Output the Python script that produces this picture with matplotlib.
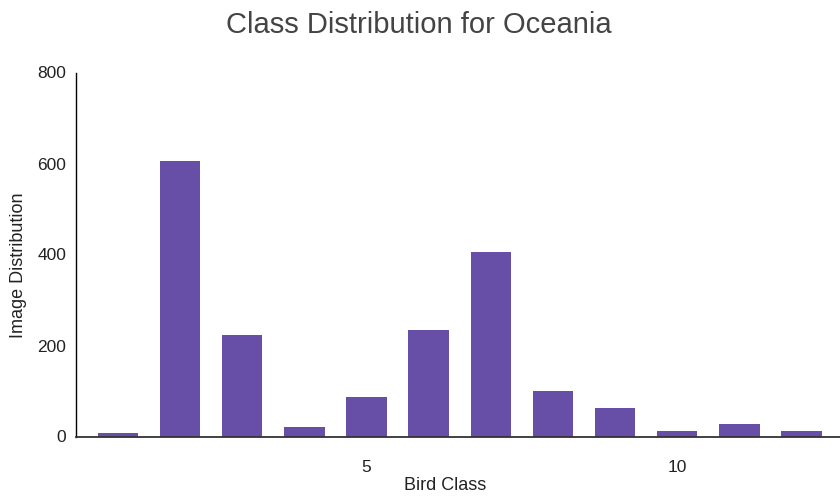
import matplotlib
matplotlib.use("Agg")
import matplotlib.pyplot as plt

bird_class = [1, 2, 3, 4, 5, 6, 7, 8, 9, 10, 11, 12]
image_count = [7, 606, 223, 20, 87, 234, 406, 100, 63, 11, 28, 11]
y_ticks = [0, 200, 400, 600, 800]
x_ticks = [5, 10]

plt.rcParams['font.family'] = ['Liberation Sans', 'DejaVu Sans']
fig = plt.figure(figsize=(8.4, 5.0), dpi=100)
ax = fig.add_axes([76/840, 1-436.5/500, 1-76/840, (436.5-72.5)/500])

ax.bar(bird_class, image_count, width=0.65, color='#674ea7', zorder=2)
ax.set_xlim(0.325, 12.62)
ax.set_ylim(0, 800)
ax.set_yticks(y_ticks)
ax.set_xticks(x_ticks)
ax.tick_params(length=0, labelsize=12.5, colors='#222222')
ax.tick_params(axis='y', pad=7)
ax.tick_params(axis='x', pad=17)
for s in ['top', 'right']:
    ax.spines[s].set_visible(False)
ax.spines['left'].set_color('#000000')
ax.spines['bottom'].set_color('#333333')
ax.spines['left'].set_linewidth(1.0)
ax.spines['bottom'].set_linewidth(1.3)

fig.text(445/840, 1-486/500, 'Bird Class', ha='center', va='center',
         fontsize=13, color='#222222')
fig.text(19/840, 1-265/500, 'Image Distribution', ha='center', va='center',
         rotation=90, fontsize=13, color='#222222')
fig.text(419/840, 1-25/500, 'Class Distribution for Oceania', ha='center', va='center',
         fontsize=21, color='#444444')

fig.savefig('out.png', dpi=100)
